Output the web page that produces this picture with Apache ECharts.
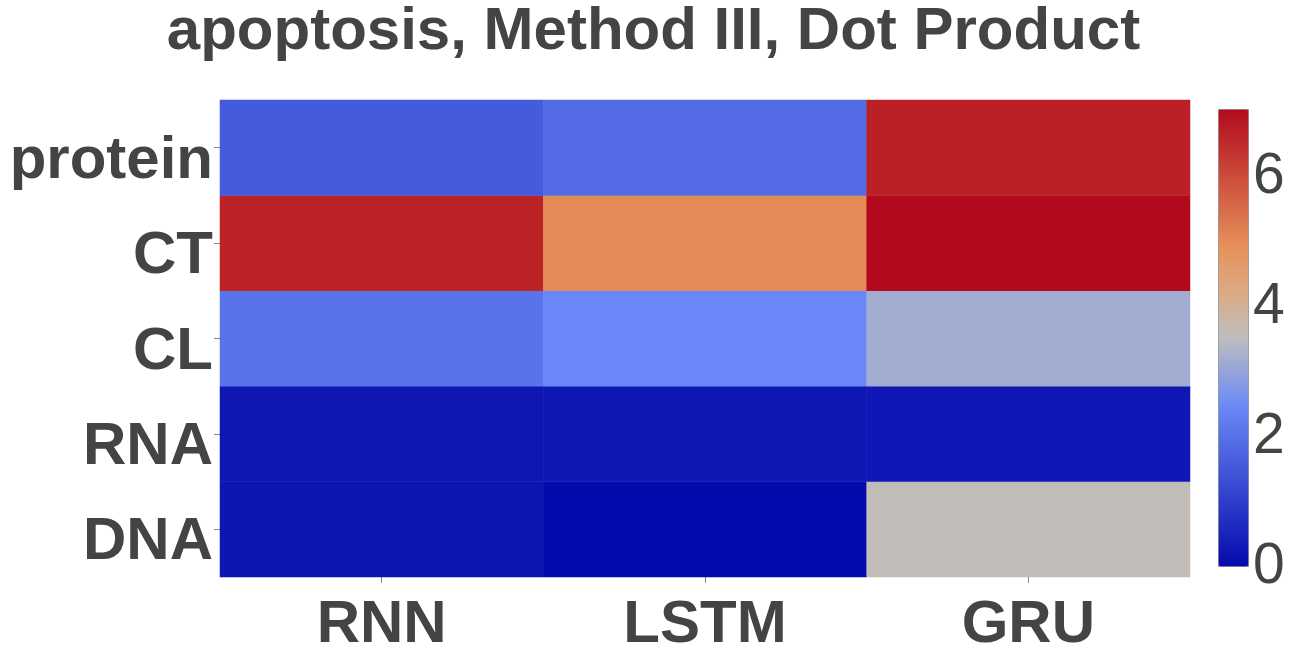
<!DOCTYPE html>
<html>
<head>
<meta charset="utf-8">
<script src="https://cdn.jsdelivr.net/npm/echarts@6/dist/echarts.min.js"></script>
<style>
  html, body { margin: 0; padding: 0; background: #fff; }
  #chart { width: 1307px; height: 658px; }
</style>
</head>
<body>
<div id="chart"></div>
<script>
var models = ['RNN', 'LSTM', 'GRU'];
var features = ['DNA', 'RNA', 'CL', 'CT', 'protein'];
// one array per model, ordered like features
var rnnVals = [0.22, 0.24, 2.05, 6.65, 1.57];
var lstmVals = [0.0, 0.26, 2.43, 5.03, 1.90];
var gruVals = [3.58, 0.25, 3.16, 7.03, 6.69];
var cbTicks = [0, 2, 4, 6];
var zMin = 0, zMax = 7.03;

// reversed RdBu-like colour stops
var stops = [
	[0, [5, 10, 172]],
	[0.35, [106, 137, 247]],
	[0.5, [190, 190, 190]],
	[0.6, [220, 170, 132]],
	[0.7, [230, 145, 90]],
	[1, [178, 10, 28]]
];
function colorAt(t) {
	for (var i = 1; i < stops.length; i++) {
		if (t <= stops[i][0]) {
			var a = stops[i - 1], b = stops[i];
			var f = (t - a[0]) / (b[0] - a[0]);
			var c = a[1].map(function (v, k) { return Math.round(v + (b[1][k] - v) * f); });
			return 'rgb(' + c.join(',') + ')';
		}
	}
	return 'rgb(' + stops[stops.length - 1][1].join(',') + ')';
}
var palette = [];
for (var s = 0; s <= 100; s++) palette.push(colorAt(s / 100));

var cols = [rnnVals, lstmVals, gruVals];
var cells = [];
cols.forEach(function (arr, xi) {
	arr.forEach(function (v, yi) {
		cells.push([xi, yi, v]);
	});
});

var font = '"Liberation Sans", Arial, sans-serif';
var chart = echarts.init(document.getElementById('chart'));
chart.setOption({
	animation: false,
	textStyle: { fontFamily: font },
	title: {
		text: 'apoptosis, Method III, Dot Product',
		left: 'center',
		top: -3,
		textStyle: { fontSize: 60, fontWeight: 'bold', color: '#444', fontFamily: font }
	},
	grid: [
		{ left: 220, right: 117, top: 100, bottom: 81 },
		{ left: 1219, width: 30, top: 110, height: 457 }
	],
	xAxis: [
		{
			type: 'category',
			data: models,
			gridIndex: 0,
			axisLine: { show: false },
			axisTick: { show: true, alignWithLabel: true, length: 6, lineStyle: { color: '#888' } },
			axisLabel: { fontSize: 60, fontWeight: 'bold', color: '#444', margin: 18, fontFamily: font },
			splitLine: { show: false }
		},
		{ type: 'value', gridIndex: 1, show: false, min: 0, max: 1 }
	],
	yAxis: [
		{
			type: 'category',
			data: features,
			gridIndex: 0,
			axisLine: { show: false },
			axisTick: { show: true, alignWithLabel: true, length: 6, lineStyle: { color: '#888' } },
			axisLabel: {
				margin: 7,
				formatter: function (v) { return '{l|' + v + '}'; },
				rich: {
					l: {
						fontSize: 60, fontWeight: 'bold', color: '#444', fontFamily: font,
						padding: [27, 0, 0, 0]
					}
				}
			},
			splitLine: { show: false }
		},
		{
			type: 'value',
			gridIndex: 1,
			position: 'right',
			min: zMin,
			max: zMax,
			interval: 2,
			axisLine: { show: false },
			axisTick: { show: false },
			splitLine: { show: false },
			axisLabel: {
				fontSize: 57, color: '#444', margin: 4, fontFamily: font,
				formatter: function (v) { return cbTicks.indexOf(v) >= 0 ? String(v) : ''; },
				showMaxLabel: false
			}
		}
	],
	visualMap: {
		type: 'continuous',
		min: zMin,
		max: zMax,
		seriesIndex: 0,
		calculable: false,
		left: 1218,
		top: 109,
		itemWidth: 30,
		itemHeight: 457,
		padding: 0,
		borderWidth: 1,
		borderColor: '#888',
		text: null,
		showLabel: false,
		inRange: { color: palette }
	},
	series: [
		{
			type: 'heatmap',
			xAxisIndex: 0,
			yAxisIndex: 0,
			data: cells,
			itemStyle: { borderWidth: 0 },
			emphasis: { disabled: true }
		},
		{
			type: 'scatter',
			xAxisIndex: 1,
			yAxisIndex: 1,
			data: []
		}
	]
});
</script>
</body>
</html>
